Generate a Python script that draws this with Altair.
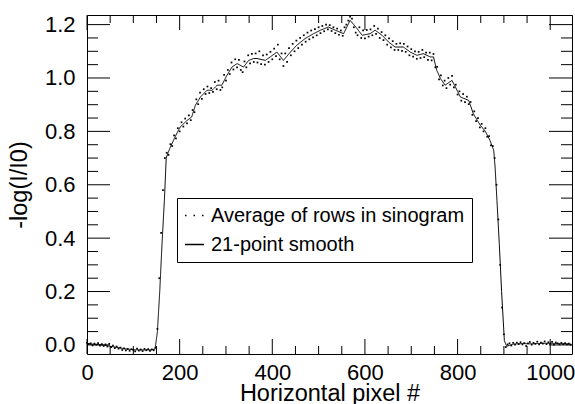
import altair as alt
import pandas as pd

# ---------------- data ----------------
raw_step = 4  # horizontal pixel spacing of the sampled raw averages
raw_y = [
    0.008, 0.004, 0.006, -0.002, 0.005, 0.001, 0.007, -0.003, 0.003, -0.004,
    0.002, -0.006, 0.004, -0.008, -0.003, -0.012, -0.006, -0.014, -0.010, -0.019,
    -0.013, -0.020, -0.015, -0.022, -0.016, -0.019, -0.024, -0.014, -0.021, -0.017,
    -0.023, -0.015, -0.020, -0.016, -0.022, -0.017, -0.020, -0.010, 0.060, 0.250,
    0.420, 0.580, 0.700, 0.720, 0.712, 0.752, 0.745, 0.785, 0.774, 0.812,
    0.800, 0.834, 0.818, 0.848, 0.830, 0.860, 0.842, 0.880, 0.872, 0.920,
    0.902, 0.945, 0.922, 0.958, 0.940, 0.968, 0.944, 0.962, 0.948, 0.985,
    0.958, 0.990, 0.955, 0.965, 1.012, 0.990, 1.030, 1.015, 1.058, 1.032,
    1.070, 1.040, 1.068, 1.030, 1.022, 1.062, 1.040, 1.085, 1.055, 1.090,
    1.060, 1.092, 1.058, 1.100, 1.052, 1.085, 1.050, 1.088, 1.060, 1.098,
    1.070, 1.110, 1.082, 1.125, 1.070, 1.092, 1.045, 1.092, 1.060, 1.112,
    1.085, 1.128, 1.100, 1.140, 1.112, 1.150, 1.125, 1.160, 1.136, 1.170,
    1.145, 1.178, 1.152, 1.183, 1.160, 1.190, 1.168, 1.195, 1.175, 1.200,
    1.182, 1.198, 1.176, 1.190, 1.168, 1.185, 1.162, 1.178, 1.158, 1.190,
    1.200, 1.215, 1.230, 1.222, 1.190, 1.170, 1.160, 1.190, 1.150, 1.178,
    1.148, 1.180, 1.155, 1.182, 1.160, 1.195, 1.165, 1.185, 1.150, 1.172,
    1.142, 1.160, 1.125, 1.148, 1.115, 1.138, 1.105, 1.128, 1.105, 1.130,
    1.102, 1.128, 1.098, 1.118, 1.085, 1.108, 1.080, 1.100, 1.072, 1.098,
    1.075, 1.105, 1.078, 1.095, 1.068, 1.095, 1.066, 1.090, 1.040, 1.042,
    0.995, 1.010, 0.972, 0.990, 0.962, 1.000, 0.975, 1.008, 0.965, 0.975,
    0.938, 0.950, 0.915, 0.940, 0.910, 0.930, 0.902, 0.910, 0.862, 0.875,
    0.838, 0.850, 0.815, 0.828, 0.800, 0.812, 0.780, 0.782, 0.748, 0.745,
    0.700, 0.600, 0.470, 0.300, 0.140, 0.040, -0.008, 0.002, 0.006, -0.002,
    0.008, 0.001, 0.009, 0.003, 0.010, 0.002, 0.007, -0.004, 0.006, 0.011,
    0.001, 0.008, 0.004, 0.012, 0.002, 0.009, 0.005, 0.013, 0.003, 0.010,
    0.004, 0.011, 0.001, 0.009, 0.006, 0.002, 0.008, 0.003, 0.007, 0.002,
    0.005, 0.001,
]
raw_x = list(range(0, raw_step * len(raw_y), raw_step))

smooth_x = [0, 20, 40, 60, 80, 100, 120, 140, 147, 152, 157, 162, 167, 171, 175,
            180, 190, 201, 216, 226, 234, 245, 259, 270, 281, 291, 302, 313, 324,
            338, 349, 360, 367, 385, 410, 424, 439, 453, 471, 489, 504, 521, 536,
            554, 568, 583, 594, 611, 622, 637, 651, 665, 683, 698, 712, 726, 741,
            748, 755, 763, 773, 788, 800, 806, 824, 834, 849, 860, 870, 878, 881,
            885, 890, 895, 901, 906, 920, 940, 960, 980, 1000, 1020, 1044]
smooth_y = [0.004, 0.002, -0.002, -0.008, -0.014, -0.018, -0.019, -0.018, -0.015,
            0.05, 0.20, 0.38, 0.54, 0.70, 0.72, 0.741, 0.779, 0.816, 0.841, 0.854,
            0.898, 0.929, 0.954, 0.954, 0.973, 0.973, 1.010, 1.041, 1.054, 1.041,
            1.066, 1.073, 1.073, 1.066, 1.097, 1.066, 1.097, 1.123, 1.148, 1.166,
            1.179, 1.191, 1.179, 1.166, 1.216, 1.185, 1.160, 1.166, 1.179, 1.160,
            1.135, 1.116, 1.116, 1.097, 1.085, 1.091, 1.079, 1.079, 1.029, 0.998,
            0.973, 0.991, 0.950, 0.929, 0.916, 0.866, 0.823, 0.800, 0.766, 0.729,
            0.666, 0.541, 0.380, 0.200, 0.016, -0.005, 0.003, 0.005, 0.004, 0.006,
            0.006, 0.005, 0.003]

series_names = ["Average of rows in sinogram", "21-point smooth"]

x_major = [0, 200, 400, 600, 800, 1000]
x_minor = [50, 100, 150, 250, 300, 350, 450, 500, 550, 650, 700, 750, 850, 900, 950]
y_major = [0.0, 0.2, 0.4, 0.6, 0.8, 1.0, 1.2]
y_minor = [0.05, 0.1, 0.15, 0.25, 0.3, 0.35, 0.45, 0.5, 0.55, 0.65, 0.7, 0.75,
           0.85, 0.9, 0.95, 1.05, 1.1, 1.15]
x_domain = [0, 1047]
y_domain = [-0.034, 1.236]

# ---------------- layout / style ----------------
W, H = 485, 339
FONT = "Liberation Sans"
PAD_CHARS = "\u2002\u2002\u2002"   # trailing en spaces widen the legend box
X_MAJ, X_MIN = 15, 8      # inward tick lengths on the x edges
Y_MAJ, Y_MIN = 23, 11     # inward tick lengths on the y edges

raw_df = pd.DataFrame({"x": raw_x, "y": raw_y})
sm_df = pd.DataFrame({"x": smooth_x, "y": smooth_y, "series": series_names[1]})

xs = alt.Scale(domain=x_domain, nice=False, zero=False)
ys = alt.Scale(domain=y_domain, nice=False, zero=False)

label_x = alt.Axis(orient="bottom", values=x_major, ticks=False, tickSize=0,
                   domain=False, grid=False, format="d", labelFont=FONT,
                   labelFontSize=22, labelColor="black", labelPadding=8,
                   labelFlush=False, labelOverlap=False,
                   title="Horizontal pixel #", titleFont=FONT, titleFontSize=23.5,
                   titleFontWeight="normal", titleColor="black", titlePadding=-2)
label_y = alt.Axis(orient="left", values=y_major, ticks=False, tickSize=0,
                   domain=False, grid=False, format=".1f", labelFont=FONT,
                   labelFontSize=22, labelColor="black", labelPadding=12,
                   labelFlush=False, labelOverlap=False,
                   title="-log(I/I0)", titleFont=FONT, titleFontSize=23.5,
                   titleFontWeight="normal", titleColor="black", titlePadding=13)

dots = alt.Chart(raw_df).mark_square(size=3, color="black", opacity=1).encode(
    x=alt.X("x:Q", scale=xs, axis=label_x),
    y=alt.Y("y:Q", scale=ys, axis=label_y),
)

legend = alt.Legend(
    orient="none", legendX=90, legendY=183, title=None,
    fillColor="white", strokeColor="black", padding=7, rowPadding=8,
    labelFont=FONT, labelFontSize=20, labelColor="black", labelLimit=600,
    labelOffset=6, labelExpr="datum.label + '" + PAD_CHARS + "'",
    symbolType="stroke", symbolSize=361, symbolStrokeColor="black",
    symbolStrokeWidth=1.4,
)
line = alt.Chart(sm_df).mark_line(color="black", strokeWidth=1).encode(
    x=alt.X("x:Q", scale=xs, axis=None),
    y=alt.Y("y:Q", scale=ys, axis=None),
    strokeDash=alt.StrokeDash(
        "series:N",
        scale=alt.Scale(domain=series_names, range=[[1.5, 7], [1, 0]]),
        legend=legend,
    ),
)


def x_ticks(values, y0, y1):
    return alt.Chart(pd.DataFrame({"v": values})).mark_rule(
        color="black", strokeWidth=1).encode(
        x=alt.X("v:Q", scale=xs, axis=None),
        y=alt.value(y0), y2=alt.value(y1))


def y_ticks(values, x0, x1):
    return alt.Chart(pd.DataFrame({"v": values})).mark_rule(
        color="black", strokeWidth=1).encode(
        y=alt.Y("v:Q", scale=ys, axis=None),
        x=alt.value(x0), x2=alt.value(x1))


ticks = [
    x_ticks(x_major, H, H - X_MAJ), x_ticks(x_minor, H, H - X_MIN),
    x_ticks(x_major, 0, X_MAJ), x_ticks(x_minor, 0, X_MIN),
    y_ticks(y_major, 0, Y_MAJ), y_ticks(y_minor, 0, Y_MIN),
    y_ticks(y_major, W, W - Y_MAJ), y_ticks(y_minor, W, W - Y_MIN),
]

chart = (
    alt.layer(dots, line, *ticks)
    .resolve_axis(x="independent", y="independent")
    .properties(
        width=W, height=H,
        padding={"left": 87, "top": 15, "right": 3, "bottom": 50},
        autosize=alt.AutoSizeParams(type="none"),
        background="white",
    )
    .configure_view(stroke="black", strokeWidth=1)
)

chart.save("out.html", embed_options={"renderer": "svg", "actions": False})
